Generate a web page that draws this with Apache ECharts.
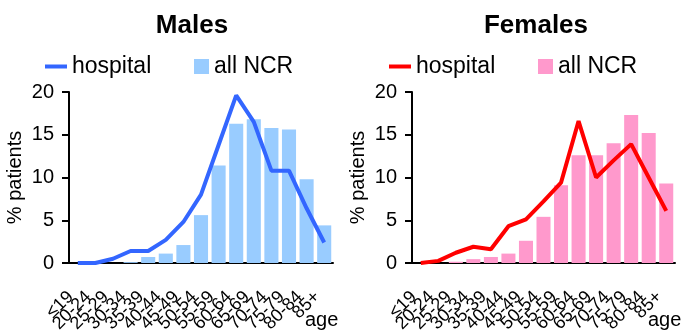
<!DOCTYPE html>
<html>
<head>
<meta charset="utf-8">
<script src="https://cdn.jsdelivr.net/npm/echarts@6/dist/echarts.min.js"></script>
<style>
  * { margin: 0; padding: 0; }
  body { background: #fff; overflow: hidden; }
</style>
</head>
<body>
<div id="main" style="width:681px;height:331px;"></div>
<script>
// age groups
var ageGroups = ['≤19', '20-24', '25-29', '30-34', '35-39', '40-44', '45-49', '50-54',
  '55-59', '60-64', '65-69', '70-74', '75-79', '80-84', '85+'];
// males
var maleHospital = [0, 0, 0.5, 1.4, 1.4, 2.7, 4.8, 8.0, 13.8, 19.6, 16.5, 10.8, 10.8, 6.4, 2.4];
var maleNCR = [0, 0, 0, 0.1, 0.7, 1.1, 2.1, 5.6, 11.4, 16.3, 16.8, 15.8, 15.6, 9.8, 4.4];
// females
var femaleHospital = [0, 0.25, 1.2, 1.9, 1.6, 4.3, 5.1, 7.2, 9.4, 16.6, 10.0, 12.0, 13.9, 10.0, 6.1];
var femaleNCR = [0, 0, 0.15, 0.45, 0.7, 1.1, 2.6, 5.4, 9.1, 12.6, 12.6, 14.0, 17.3, 15.2, 9.3];
var yTicks = [0, 5, 10, 15, 20];

var font = 'Liberation Sans';
var myChart = echarts.init(document.getElementById('main'));

function xAxisCfg(idx) {
  return {
    type: 'category', gridIndex: idx, data: ageGroups,
    axisLine: { lineStyle: { color: '#000', width: 2 } },
    axisTick: { length: 7, lineStyle: { color: '#000', width: 2 } },
    axisLabel: { interval: 0, rotate: 45, margin: 24, padding: [0, 10, 0, 0],
      color: '#000', fontSize: 18, fontFamily: font }
  };
}
function yAxisCfg(idx) {
  return {
    type: 'value', gridIndex: idx, min: yTicks[0], max: yTicks[yTicks.length - 1], interval: 5,
    name: '% patients', nameLocation: 'middle', nameGap: 44,
    nameTextStyle: { color: '#000', fontSize: 20, fontFamily: font },
    axisLine: { show: true, lineStyle: { color: '#000', width: 2 } },
    axisTick: { show: true, length: 7, lineStyle: { color: '#000', width: 2 } },
    axisLabel: { color: '#000', fontSize: 20, fontFamily: font, margin: 15 },
    splitLine: { show: false }
  };
}
function legendCfg(name, left, w, h) {
  return {
    data: [{ name: name, icon: 'rect' }], left: left, top: 50,
    itemWidth: w, itemHeight: h,
    textStyle: { color: '#000', fontSize: 23, fontFamily: font }
  };
}

myChart.setOption({
  animation: false,
  title: [
    { text: 'Males', left: 187, top: 8, textAlign: 'center',
      textStyle: { fontSize: 26, fontWeight: 'bold', color: '#000', fontFamily: font } },
    { text: 'Females', left: 531, top: 8, textAlign: 'center',
      textStyle: { fontSize: 26, fontWeight: 'bold', color: '#000', fontFamily: font } }
  ],
  legend: [
    legendCfg('hospital', 40, 22, 4),
    legendCfg('all NCR', 189, 15, 15),
    legendCfg('hospital ', 384, 22, 4),
    legendCfg('all NCR ', 533, 15, 15)
  ],
  grid: [
    { left: 69, width: 264, top: 92, height: 171, outerBoundsMode: 'none' },
    { left: 412, width: 263, top: 92, height: 171, outerBoundsMode: 'none' }
  ],
  xAxis: [xAxisCfg(0), xAxisCfg(1)],
  yAxis: [yAxisCfg(0), yAxisCfg(1)],
  graphic: [
    { type: 'text', left: 305, top: 310, style: { text: 'age', fontSize: 20, fontFamily: font, fill: '#000' } },
    { type: 'text', left: 648, top: 310, style: { text: 'age', fontSize: 20, fontFamily: font, fill: '#000' } }
  ],
  series: [
    { name: 'all NCR', type: 'bar', xAxisIndex: 0, yAxisIndex: 0, data: maleNCR,
      barCategoryGap: '20%', itemStyle: { color: '#99ccff' } },
    { name: 'hospital', type: 'line', xAxisIndex: 0, yAxisIndex: 0, data: maleHospital,
      showSymbol: false, lineStyle: { color: '#3366ff', width: 4 }, itemStyle: { color: '#3366ff' } },
    { name: 'all NCR ', type: 'bar', xAxisIndex: 1, yAxisIndex: 1, data: femaleNCR,
      barCategoryGap: '20%', itemStyle: { color: '#ff99cc' } },
    { name: 'hospital ', type: 'line', xAxisIndex: 1, yAxisIndex: 1, data: femaleHospital,
      showSymbol: false, lineStyle: { color: '#ff0000', width: 4 }, itemStyle: { color: '#ff0000' } }
  ]
});
</script>
</body>
</html>
